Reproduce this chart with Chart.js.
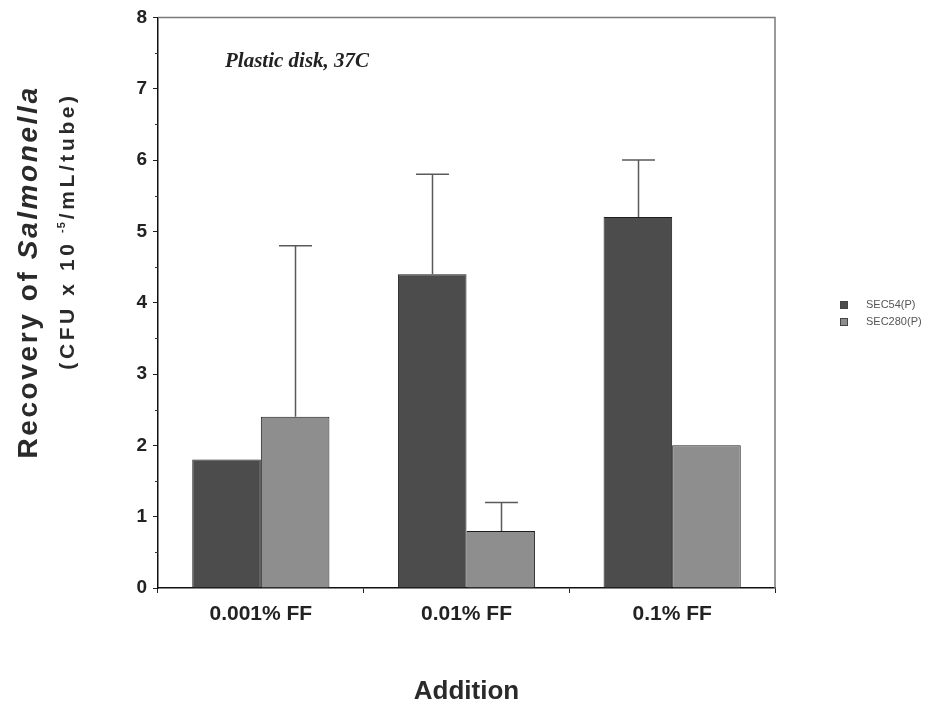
<!DOCTYPE html>
<html>
<head>
<meta charset="UTF-8">
<title>Recovery of Salmonella</title>
<script src="https://cdn.jsdelivr.net/npm/chart.js"></script>
<style>
    body { margin: 0; background: #fff; }
    #wrap { width: 928px; height: 710px; }
</style>
</head>
<body>
<div id="wrap"><canvas id="chart"></canvas></div>
<script>
    var categories = ['0.001% FF', '0.01% FF', '0.1% FF'];
    var seriesNames = ['SEC54(P)', 'SEC280(P)'];
    var sec54 = [1.8, 4.4, 5.2];
    var sec54Err = [0, 1.4, 0.8];
    var sec280 = [2.4, 0.8, 2.0];
    var sec280Err = [2.4, 0.4, 0];
    var yTicks = [0, 1, 2, 3, 4, 5, 6, 7, 8];

    var colors = ['#4c4c4c', '#8e8e8e'];
    var errors = [sec54Err, sec280Err];

    // error bars, frame, minor ticks, titles and legend
    var extras = {
        id: 'extras',
        afterDatasetsDraw: function (chart) {
            var ctx = chart.ctx;
            var y = chart.scales.y;
            ctx.save();
            ctx.strokeStyle = '#5a5a5a';
            ctx.lineWidth = 1.5;
            chart.data.datasets.forEach(function (ds, d) {
                var meta = chart.getDatasetMeta(d);
                meta.data.forEach(function (bar, i) {
                    var err = errors[d][i];
                    if (!err) return;
                    var x = Math.round(bar.x) + 0.5;
                    var yTop = y.getPixelForValue(ds.data[i] + err);
                    var half = bar.width * 0.24;
                    ctx.beginPath();
                    ctx.moveTo(x, bar.y);
                    ctx.lineTo(x, yTop);
                    ctx.moveTo(x - half, yTop);
                    ctx.lineTo(x + half, yTop);
                    ctx.stroke();
                });
            });
            ctx.restore();
        },
        afterDraw: function (chart) {
            var ctx = chart.ctx;
            var a = chart.chartArea;
            var y = chart.scales.y;
            ctx.save();

            // top and right frame
            ctx.strokeStyle = '#7a7a7a';
            ctx.lineWidth = 1.5;
            ctx.beginPath();
            ctx.moveTo(a.left, a.top);
            ctx.lineTo(a.right, a.top);
            ctx.lineTo(a.right, a.bottom);
            ctx.stroke();

            // minor ticks on y
            ctx.strokeStyle = '#333';
            ctx.lineWidth = 1;
            for (var v = 0.5; v < 8; v += 1) {
                var py = Math.round(y.getPixelForValue(v)) + 0.5;
                ctx.beginPath();
                ctx.moveTo(a.left - 3, py);
                ctx.lineTo(a.left, py);
                ctx.stroke();
            }

            // note inside the plot
            ctx.fillStyle = '#222';
            ctx.font = 'italic bold 21px "Liberation Serif"';
            ctx.textAlign = 'left';
            ctx.textBaseline = 'alphabetic';
            ctx.fillText('Plastic disk, 37C', 225, 67);

            // x title
            ctx.fillStyle = '#2a2a2a';
            ctx.font = 'bold 26px "Liberation Sans"';
            ctx.textAlign = 'center';
            ctx.fillText('Addition', (a.left + a.right) / 2, 699);

            // y title, two lines
            ctx.save();
            ctx.translate(37, 272);
            ctx.rotate(-Math.PI / 2);
            ctx.textAlign = 'left';
            ctx.letterSpacing = '2.6px';
            var f1 = 'bold 28px "Liberation Sans"';
            var f1i = 'italic bold 28px "Liberation Sans"';
            ctx.font = f1;
            var p1 = 'Recovery of ';
            var w1 = ctx.measureText(p1).width;
            ctx.font = f1i;
            var w2 = ctx.measureText('Salmonella').width;
            var sx = -(w1 + w2) / 2;
            ctx.font = f1;
            ctx.fillText(p1, sx, 0);
            ctx.font = f1i;
            ctx.fillText('Salmonella', sx + w1, 0);
            ctx.restore();

            ctx.save();
            ctx.translate(74, 231);
            ctx.rotate(-Math.PI / 2);
            ctx.textAlign = 'left';
            var sp2 = '3.6px';
            ctx.letterSpacing = sp2;
            var f2 = 'bold 21px "Liberation Sans"';
            var f2s = 'bold 11px "Liberation Sans"';
            var q1 = '(CFU x 10 ';
            var q2 = '-5';
            var q3 = '/mL/tube)';
            ctx.font = f2;
            var m1 = ctx.measureText(q1).width;
            var m3 = ctx.measureText(q3).width;
            ctx.font = f2s;
            ctx.letterSpacing = '1px';
            var m2 = ctx.measureText(q2).width;
            var tx = -(m1 + m2 + m3) / 2;
            ctx.letterSpacing = sp2;
            ctx.font = f2;
            ctx.fillText(q1, tx, 0);
            ctx.fillText(q3, tx + m1 + m2, 0);
            ctx.letterSpacing = '1px';
            ctx.font = f2s;
            ctx.fillText(q2, tx + m1 - 2, -9);
            ctx.restore();

            // legend
            ctx.font = '11px "Liberation Sans"';
            ctx.textAlign = 'left';
            ctx.textBaseline = 'middle';
            seriesNames.forEach(function (name, i) {
                var ly = 305 + i * 17;
                ctx.fillStyle = colors[i];
                ctx.fillRect(840, ly - 4, 8, 8);
                ctx.strokeStyle = '#444';
                ctx.lineWidth = 1;
                ctx.strokeRect(840.5, ly - 3.5, 7, 7);
                ctx.fillStyle = '#555';
                ctx.fillText(name, 866, ly);
            });

            ctx.restore();
        }
    };

    new Chart(document.getElementById('chart'), {
        type: 'bar',
        data: {
            labels: categories,
            datasets: [
                { label: seriesNames[0], data: sec54, backgroundColor: colors[0], borderColor: '#1e1e1e', borderWidth: 1 },
                { label: seriesNames[1], data: sec280, backgroundColor: colors[1], borderColor: '#1e1e1e', borderWidth: 1 }
            ]
        },
        options: {
            responsive: true,
            maintainAspectRatio: false,
            animation: false,
            layout: { padding: { left: 0, right: 153, top: 17, bottom: 0 } },
            plugins: {
                legend: { display: false },
                tooltip: { enabled: false }
            },
            datasets: {
                bar: { categoryPercentage: 0.667, barPercentage: 1 }
            },
            scales: {
                x: {
                    grid: { drawOnChartArea: false, offset: true, tickLength: 5, color: '#222' },
                    border: { color: '#111', width: 1.5 },
                    ticks: {
                        color: '#222',
                        font: { family: '"Liberation Sans"', size: 21, weight: 'bold' },
                        padding: 9
                    },
                    afterFit: function (s) { s.height = 122; }
                },
                y: {
                    min: 0,
                    max: 8,
                    afterBuildTicks: function (s) {
                        s.ticks = yTicks.map(function (v) { return { value: v }; });
                    },
                    grid: { drawOnChartArea: false, tickLength: 5, color: '#222' },
                    border: { color: '#111', width: 1.5 },
                    ticks: {
                        color: '#222',
                        font: { family: '"Liberation Sans"', size: 19, weight: 'bold' },
                        padding: 6
                    },
                    afterFit: function (s) { s.width = 158; }
                }
            }
        },
        plugins: [extras]
    });
</script>
</body>
</html>
